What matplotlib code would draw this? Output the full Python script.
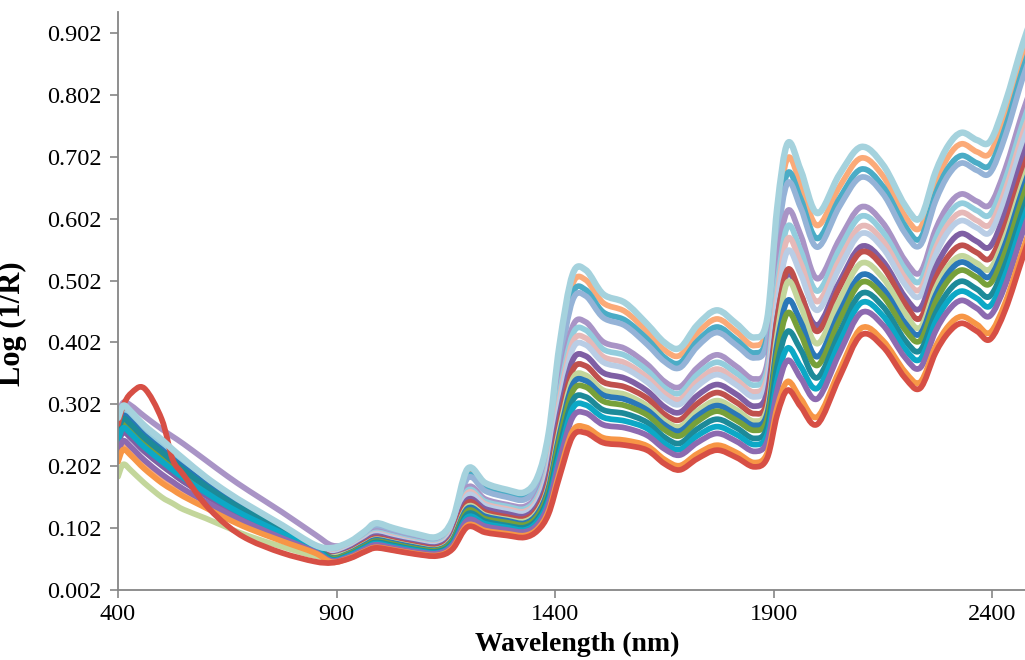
import matplotlib.pyplot as plt
from matplotlib.path import Path
from matplotlib.patches import PathPatch

# Spectros NIR/VIS - Log(1/R) por comprimento de onda
plt.rcParams['font.family'] = ['Liberation Serif', 'DejaVu Serif']

wavelength = [400, 412, 430, 460, 500, 525, 550, 600, 650, 700, 775, 850,
              890, 930, 965, 990, 1030, 1080, 1130, 1165, 1200, 1240, 1290, 1330,
              1360, 1385, 1410, 1440, 1470, 1510, 1560, 1610, 1650, 1685, 1725, 1770,
              1815, 1855, 1885, 1908, 1932, 1962, 2000, 2050, 2100, 2150, 2200, 2235,
              2270, 2300, 2330, 2365, 2395, 2430, 2470, 2500]

spec_lightblue = [.280, .300, .290, .268, .245, .229, .214, .185, .160, .138, .107, .075,
                  .070, .080, .097, .110, .102, .093, .088, .115, .198, .175, .164, .160,
                  .185, .255, .398, .512, .519, .480, .466, .432, .402, .393, .430, .454,
                  .432, .410, .440, .620, .724, .680, .611, .673, .718, .689, .624, .603,
                  .677, .721, .741, .729, .727, .790, .885, .945]
spec_peach = [.214, .234, .224, .203, .180, .168, .157, .138, .120, .104, .083, .062,
              .069, .078, .095, .108, .100, .091, .086, .112, .192, .170, .160, .156,
              .180, .247, .385, .496, .503, .466, .452, .420, .390, .381, .417, .440,
              .419, .397, .427, .600, .700, .657, .591, .653, .700, .671, .607, .587,
              .659, .703, .723, .710, .708, .770, .864, .924]
spec_aqua = [.266, .286, .276, .254, .231, .216, .202, .175, .151, .131, .102, .072,
             .067, .077, .093, .105, .098, .089, .084, .109, .187, .165, .155, .151,
             .175, .239, .372, .481, .487, .451, .438, .408, .378, .369, .404, .427,
             .406, .385, .413, .580, .676, .634, .570, .634, .682, .654, .591, .570,
             .642, .685, .704, .692, .689, .750, .844, .904]
spec_steel = [.252, .272, .262, .240, .217, .203, .189, .165, .143, .123, .097, .070,
              .066, .076, .092, .104, .096, .088, .083, .107, .183, .162, .152, .148,
              .171, .234, .364, .470, .477, .442, .429, .399, .371, .361, .395, .418,
              .397, .377, .404, .566, .660, .619, .556, .621, .669, .642, .579, .559,
              .630, .673, .692, .680, .676, .736, .830, .890]
spec_lavender = [.285, .305, .300, .283, .262, .250, .238, .212, .186, .162, .128, .092,
                 .074, .076, .086, .097, .090, .082, .078, .100, .168, .149, .140, .137,
                 .157, .213, .330, .428, .435, .403, .392, .367, .339, .330, .361, .382,
                 .363, .343, .368, .530, .615, .575, .505, .568, .621, .595, .535, .515,
                 .584, .624, .642, .630, .625, .683, .775, .835]
spec_sky = [.271, .291, .281, .259, .236, .221, .206, .178, .154, .133, .104, .073,
            .061, .070, .085, .095, .089, .081, .077, .098, .163, .145, .137, .133,
            .153, .207, .319, .415, .422, .391, .381, .357, .329, .320, .350, .370,
            .352, .333, .357, .496, .590, .550, .485, .552, .606, .580, .521, .501,
            .569, .609, .627, .615, .609, .666, .757, .817]
spec_pink = [.256, .276, .266, .245, .222, .208, .194, .168, .146, .126, .098, .071,
             .060, .069, .083, .093, .087, .079, .075, .095, .159, .141, .133, .129,
             .148, .200, .309, .402, .409, .379, .369, .346, .320, .310, .339, .359,
             .341, .322, .346, .479, .570, .530, .468, .535, .590, .566, .507, .488,
             .554, .594, .612, .599, .593, .649, .740, .800]
spec_palesteel = [.242, .262, .252, .231, .208, .194, .181, .158, .137, .118, .093, .068,
                  .059, .068, .082, .092, .085, .078, .074, .093, .155, .138, .130, .126,
                  .145, .195, .300, .391, .398, .370, .360, .338, .312, .302, .331, .350,
                  .333, .314, .337, .466, .550, .512, .454, .522, .578, .554, .496, .477,
                  .543, .582, .599, .587, .580, .636, .726, .786]
spec_purple = [.237, .257, .247, .226, .203, .190, .177, .155, .134, .116, .091, .067,
               .057, .066, .080, .089, .083, .076, .072, .090, .148, .133, .125, .121,
               .139, .186, .285, .373, .380, .353, .344, .324, .298, .289, .316, .334,
               .318, .299, .321, .442, .513, .478, .430, .499, .557, .533, .476, .457,
               .522, .560, .578, .565, .557, .612, .702, .762]
spec_brick = [.261, .281, .271, .249, .226, .212, .198, .172, .149, .128, .100, .071,
              .056, .064, .078, .086, .081, .074, .070, .087, .143, .128, .120, .117,
              .134, .178, .272, .357, .364, .338, .330, .312, .286, .277, .303, .321,
              .305, .287, .307, .440, .520, .480, .420, .490, .548, .524, .465, .441,
              .505, .542, .559, .547, .538, .592, .681, .741]
spec_sage = [.185, .205, .195, .175, .152, .142, .132, .118, .103, .089, .072, .057,
             .055, .063, .076, .084, .079, .072, .068, .085, .137, .123, .116, .113,
             .129, .171, .261, .343, .349, .325, .318, .300, .276, .266, .291, .308,
             .293, .275, .295, .415, .500, .460, .400, .470, .530, .506, .450, .426,
             .489, .526, .542, .530, .521, .574, .662, .722]
spec_blue = [.264, .284, .274, .252, .229, .214, .200, .174, .150, .130, .101, .072,
             .054, .062, .075, .083, .078, .071, .067, .083, .134, .121, .114, .110,
             .126, .167, .253, .334, .340, .317, .310, .293, .269, .259, .283, .300,
             .285, .268, .287, .400, .470, .435, .379, .450, .511, .489, .434, .416,
             .478, .515, .532, .519, .509, .562, .650, .710]
spec_green = [.253, .273, .263, .242, .219, .205, .191, .166, .144, .124, .097, .070,
              .053, .061, .073, .081, .076, .069, .066, .081, .130, .117, .111, .107,
              .122, .161, .245, .323, .330, .307, .300, .285, .261, .251, .274, .291,
              .276, .260, .278, .385, .450, .415, .365, .437, .499, .477, .423, .405,
              .467, .503, .519, .507, .497, .549, .637, .697]
spec_teal = [.259, .279, .269, .248, .225, .210, .196, .170, .147, .127, .099, .071,
             .051, .059, .071, .079, .074, .067, .064, .078, .125, .113, .106, .103,
             .117, .154, .232, .308, .314, .293, .287, .273, .249, .239, .262, .278,
             .264, .247, .265, .365, .420, .390, .345, .417, .481, .460, .406, .389,
             .449, .485, .501, .488, .477, .529, .616, .676]
spec_cyan = [.244, .264, .254, .233, .210, .196, .183, .160, .138, .119, .094, .068,
             .050, .058, .070, .077, .072, .066, .062, .076, .120, .109, .103, .099,
             .113, .147, .221, .295, .301, .281, .275, .263, .239, .229, .251, .266,
             .253, .237, .253, .342, .393, .363, .328, .401, .466, .445, .392, .375,
             .435, .470, .485, .473, .461, .512, .599, .659]
spec_violet = [.223, .243, .233, .212, .189, .177, .165, .145, .126, .109, .086, .064,
               .049, .056, .068, .075, .070, .064, .061, .074, .115, .105, .099, .096,
               .108, .141, .211, .281, .288, .269, .264, .252, .230, .220, .240, .255,
               .242, .226, .242, .325, .373, .344, .311, .384, .450, .430, .378, .361,
               .420, .454, .470, .457, .445, .495, .581, .641]
spec_orange = [.209, .229, .219, .198, .175, .164, .153, .135, .117, .101, .081, .062,
               .047, .054, .065, .071, .067, .061, .058, .070, .107, .098, .093, .090,
               .101, .130, .192, .259, .265, .248, .244, .235, .213, .203, .222, .236,
               .224, .208, .223, .297, .339, .311, .282, .356, .425, .405, .355, .338,
               .395, .429, .444, .431, .418, .467, .552, .612]
spec_red = [.270, .300, .320, .328, .278, .213, .188, .140, .106, .083, .062, .048,
            .046, .053, .064, .070, .066, .060, .057, .068, .104, .095, .090, .087,
            .098, .125, .185, .250, .256, .240, .236, .228, .206, .196, .214, .228,
            .216, .201, .215, .285, .325, .298, .270, .345, .414, .395, .345, .328,
            .385, .418, .433, .420, .407, .455, .540, .600]

spectra = [spec_peach, spec_aqua, spec_steel, spec_lavender, spec_sky, spec_pink,
           spec_palesteel, spec_purple, spec_brick, spec_sage, spec_blue, spec_green,
           spec_teal, spec_cyan, spec_violet, spec_orange, spec_red, spec_lightblue]
colors = ['#fbaa78', '#4bacc6', '#95b3d7', '#a994c6', '#93cddd', '#e6b9b8',
          '#b9cde5', '#7f5fa4', '#c0504d', '#c3d69b', '#2a78b8', '#77a03a',
          '#1d8a99', '#0ca8c6', '#8d6ab0', '#f79646', '#d74f45', '#a5d2dd']

y_ticks = [0.002, 0.102, 0.202, 0.302, 0.402, 0.502, 0.602, 0.702, 0.802, 0.902]
x_ticks = [400, 900, 1400, 1900, 2400]


def linha_suave(x, y):
    """
        Caminho com curvas de Bezier passando pelos pontos (linha suavizada do Excel)
    """
    verts = [(x[0], y[0])]
    codes = [Path.MOVETO]
    n = len(x)
    for i in range(n - 1):
        xa, ya = (x[i - 1], y[i - 1]) if i > 0 else (x[i], y[i])
        xb, yb = (x[i + 2], y[i + 2]) if i + 2 < n else (x[i + 1], y[i + 1])
        verts.append((x[i] + (x[i + 1] - xa) / 6, y[i] + (y[i + 1] - ya) / 6))
        verts.append((x[i + 1] - (xb - x[i]) / 6, y[i + 1] - (yb - y[i]) / 6))
        verts.append((x[i + 1], y[i + 1]))
        codes += [Path.CURVE4] * 3
    return Path(verts, codes)


fig = plt.figure(figsize=(10.25, 6.6), dpi=100)
ax = fig.add_axes([118 / 1025, 70 / 660, 918 / 1025, 578 / 660])

for valores, cor in zip(spectra, colors):
    lw = 4.6 if cor == '#a5d2dd' else 4.1
    ax.add_patch(PathPatch(linha_suave(wavelength, valores), facecolor='none',
                           edgecolor=cor, linewidth=lw, joinstyle='round',
                           capstyle='round'))

ax.set_xlim(400, 2500)
ax.set_ylim(0.002, 0.936)
ax.set_xticks(x_ticks)
ax.set_yticks(y_ticks)
ax.set_yticklabels([f"{v:.3f}" for v in y_ticks])

for lado in ['top', 'right']:
    ax.spines[lado].set_visible(False)
for lado in ['left', 'bottom']:
    ax.spines[lado].set_color('#868686')
    ax.spines[lado].set_linewidth(1.3)

ax.tick_params(axis='both', direction='out', length=6, width=1.2,
               color='#868686', labelsize=17.5, labelcolor='black')
ax.tick_params(axis='y', pad=6)
ax.tick_params(axis='x', pad=4)

ax.set_xlabel("Wavelength (nm)", fontsize=20, fontweight='bold', labelpad=5)
ax.set_ylabel("Log (1/R)", fontsize=22, fontweight='bold')
ax.yaxis.set_label_coords(-0.099, 0.46)

fig.savefig("out.png", dpi=100)
